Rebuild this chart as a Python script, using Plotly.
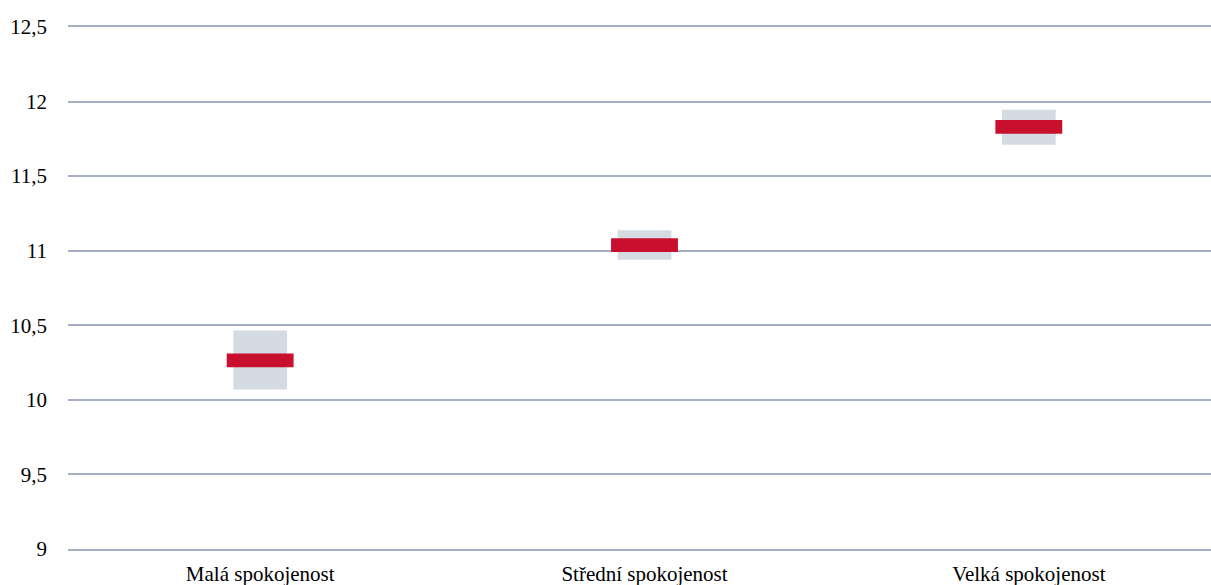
import plotly.graph_objects as go

categories = ["Malá spokojenost", "Střední spokojenost", "Velká spokojenost"]
means = [10.265, 11.037, 11.83]
lower = [10.07, 10.94, 11.71]
upper = [10.465, 11.137, 11.945]

MEAN_THICK = 0.092
BOX_W = 0.14
MEAN_W = 0.174
SERIF = "Liberation Serif"
GRID = "#a3aec2"
FS = 21

fig = go.Figure()
fig.add_trace(go.Bar(
    x=categories,
    y=[u - l for u, l in zip(upper, lower)],
    base=lower,
    width=BOX_W,
    marker=dict(color="#d5dbe3", line=dict(width=0)),
    hoverinfo="skip",
    showlegend=False,
))
fig.add_trace(go.Bar(
    x=categories,
    y=[MEAN_THICK] * len(means),
    base=[m - MEAN_THICK / 2 for m in means],
    width=MEAN_W,
    marker=dict(color="#c8102e", line=dict(width=0)),
    showlegend=False,
))

fig.update_layout(
    width=1211, height=585,
    margin=dict(l=68, r=0, t=27, b=36),
    barmode="overlay",
    plot_bgcolor="white",
    paper_bgcolor="white",
    separators=",.",
    font=dict(family=SERIF, size=FS, color="#000000"),
    xaxis=dict(
        range=[-0.5, 2.474],
        showgrid=False,
        zeroline=False,
        showline=True,
        mirror=True,
        linecolor=GRID,
        linewidth=1.5,
        ticks="",
        ticklabelstandoff=5,
        tickfont=dict(family=SERIF, size=FS, color="#000000"),
    ),
    yaxis=dict(
        range=[9, 12.5],
        dtick=0.5,
        tick0=9,
        showgrid=True,
        gridcolor=GRID,
        gridwidth=1.5,
        zeroline=False,
        showline=False,
        ticks="",
        ticklabelstandoff=20,
        tickfont=dict(family=SERIF, size=FS, color="#000000"),
    ),
)

fig.write_html(
    "out.html",
    config={"displayModeBar": False},
    post_script="document.body.style.margin='0';document.body.style.overflow='hidden';",
)
